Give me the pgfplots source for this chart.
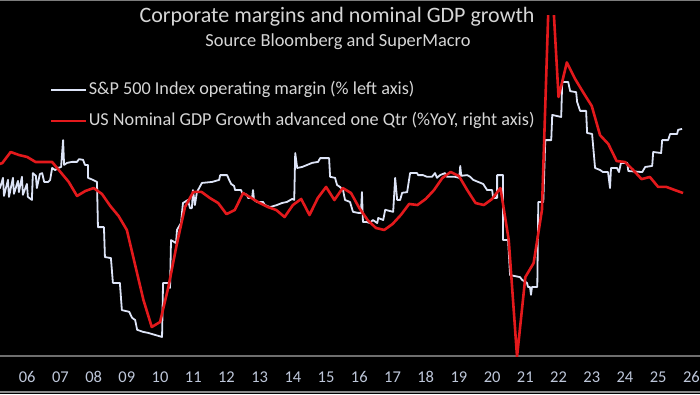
\documentclass[border=0pt]{standalone}
\usepackage{fontspec}
\setmainfont{Carlito}
\usepackage{pgfplots}
\usepackage{pgfplotstable}
\pgfplotsset{compat=1.18}
\definecolor{wline}{HTML}{DDE4F7}
\definecolor{rline}{HTML}{E3191C}
\definecolor{ticktxt}{HTML}{BEC7DA}
\definecolor{titletxt}{HTML}{D6D6D6}
\definecolor{axgray}{HTML}{6E6E6E}

\pgfplotstableread{
t v
2005.10 10.30
2005.18 10.34
2005.27 10.64
2005.30 10.11
2005.42 10.58
2005.45 10.08
2005.57 10.64
2005.60 10.17
2005.72 10.55
2005.75 10.22
2005.84 10.67
2005.87 10.14
2005.99 10.46
2006.02 10.08
2006.14 9.99
2006.17 10.78
2006.26 10.70
2006.29 10.34
2006.38 10.75
2006.45 10.78
2006.51 10.52
2006.63 10.52
2006.69 10.58
2006.75 10.93
2006.84 10.87
2006.93 10.93
2007.02 10.96
2007.08 11.75
2007.11 11.02
2007.20 11.08
2007.35 11.11
2007.50 11.11
2007.56 11.19
2007.68 11.17
2007.74 11.02
2007.83 11.02
2007.83 10.64
2007.98 10.58
2008.10 10.52
2008.13 9.19
2008.31 9.19
2008.34 8.31
2008.52 8.28
2008.58 7.55
2008.79 7.55
2008.85 6.75
2009.07 6.70
2009.16 6.52
2009.25 6.46
2009.31 6.17
2009.49 6.11
2009.64 6.08
2009.85 6.02
2010.06 5.96
2010.09 7.55
2010.27 7.55
2010.30 7.40
2010.33 8.81
2010.48 8.72
2010.51 9.11
2010.63 9.31
2010.69 9.90
2010.84 9.99
2010.90 9.75
2010.96 9.75
2010.99 10.28
2011.05 9.84
2011.11 10.22
2011.26 10.49
2011.57 10.52
2011.78 10.58
2011.81 10.72
2012.02 10.72
2012.08 10.58
2012.14 10.46
2012.23 10.40
2012.26 10.28
2012.44 10.28
2012.47 10.20
2012.62 10.14
2012.65 10.05
2012.77 10.05
2012.80 10.28
2012.83 9.99
2012.92 9.93
2013.10 9.93
2013.16 9.84
2013.31 9.78
2013.52 9.84
2013.67 9.90
2013.82 9.93
2013.98 10.02
2014.04 9.99
2014.07 11.37
2014.13 10.93
2014.28 10.96
2014.43 11.02
2014.58 11.08
2014.76 11.11
2014.82 11.22
2015.09 11.22
2015.12 10.67
2015.27 10.64
2015.33 10.43
2015.42 10.37
2015.51 10.28
2015.57 9.99
2015.72 9.93
2015.81 9.64
2015.96 9.61
2016.05 9.61
2016.08 10.22
2016.11 9.34
2016.23 9.34
2016.32 9.31
2016.41 9.40
2016.54 9.31
2016.57 9.46
2016.72 9.40
2016.78 9.70
2017.02 9.64
2017.08 10.64
2017.14 9.99
2017.23 9.99
2017.29 10.20
2017.44 10.22
2017.53 10.78
2017.74 10.78
2017.77 10.72
2017.92 10.72
2018.04 10.67
2018.19 10.67
2018.28 10.78
2018.34 10.64
2018.43 10.72
2018.58 10.78
2018.64 10.67
2018.88 10.67
2019.01 10.64
2019.04 10.99
2019.07 10.70
2019.25 10.72
2019.34 10.67
2019.43 10.58
2019.58 10.52
2019.73 10.46
2019.85 10.28
2020.00 10.28
2020.03 10.05
2020.15 10.05
2020.15 10.72
2020.33 10.72
2020.33 8.81
2020.48 8.81
2020.54 7.78
2020.84 7.72
2020.90 7.64
2021.05 7.55
2021.08 7.43
2021.14 7.43
2021.17 7.20
2021.20 7.43
2021.36 7.43
2021.39 9.93
2021.54 9.93
2021.60 11.75
2021.78 11.75
2021.81 12.49
2022.08 12.43
2022.11 13.46
2022.29 13.46
2022.35 13.19
2022.53 13.16
2022.56 12.87
2022.65 12.61
2022.83 12.61
2022.86 11.96
2023.01 11.93
2023.10 10.93
2023.25 10.87
2023.34 10.81
2023.49 10.81
2023.55 10.34
2023.58 10.93
2023.76 10.93
2023.82 10.81
2023.88 11.08
2024.07 11.08
2024.10 10.84
2024.52 10.81
2024.61 10.96
2024.82 10.99
2024.85 11.40
2025.09 11.37
2025.12 11.75
2025.30 11.75
2025.36 11.93
2025.57 11.93
2025.60 12.05
2025.72 12.08
}\margin

\pgfplotstableread{
t v
2005.00 6.20
2005.25 6.40
2005.50 7.22
2005.75 7.00
2006.00 6.85
2006.25 6.48
2006.50 6.48
2006.75 6.48
2007.00 5.74
2007.25 5.00
2007.50 3.96
2007.75 4.33
2008.00 4.55
2008.25 4.11
2008.50 3.22
2008.75 2.48
2009.00 1.44
2009.25 -1.16
2009.50 -3.75
2009.75 -5.75
2010.00 -5.38
2010.25 -2.79
2010.50 0.33
2010.75 3.14
2011.00 4.26
2011.25 4.26
2011.50 3.81
2011.75 3.44
2012.00 2.62
2012.25 2.92
2012.50 4.18
2012.75 3.81
2013.00 3.44
2013.25 3.14
2013.50 2.92
2013.75 2.40
2014.00 3.29
2014.25 3.74
2014.50 2.55
2014.75 3.81
2015.00 4.63
2015.25 3.66
2015.50 4.55
2015.75 4.18
2016.00 3.07
2016.25 2.18
2016.50 1.59
2016.75 1.44
2017.00 1.88
2017.25 2.55
2017.50 3.37
2017.75 3.29
2018.00 3.74
2018.25 4.40
2018.50 5.29
2018.75 5.74
2019.00 5.44
2019.25 4.40
2019.50 3.44
2019.75 3.29
2020.00 3.74
2020.25 4.55
2020.50 0.70
2020.75 -7.95
2021.00 -2.05
2021.25 -1.01
2021.50 2.92
2021.75 22.20
2022.00 11.30
2022.25 13.86
2022.50 12.63
2022.75 11.61
2023.00 10.63
2023.25 8.47
2023.50 7.81
2023.75 6.55
2024.00 6.48
2024.25 5.88
2024.50 5.21
2024.75 5.37
2025.00 4.63
2025.25 4.63
2025.50 4.40
2025.75 4.18
}\gdp

\begin{document}
\begin{tikzpicture}[x=1pt,y=1pt]
\useasboundingbox (0,0) rectangle (700,394);
\fill[black] (0,0) rectangle (700,394);
\clip (0,0) rectangle (700,394);
\draw[axgray!90, line width=2pt] (0,393.5) -- (700,393.5);
\draw[axgray!80, line width=1.2pt] (0,2) -- (700,2);

\begin{axis}[
  at={(0pt,38pt)}, anchor=south west,
  scale only axis, width=700pt, height=340pt,
  xmin=2005.18, xmax=2026.26, ymin=5.4, ymax=15.4,
  axis x line=bottom, axis y line=none,
  x axis line style={-, draw=axgray, line width=1.4pt},
  xtick={2005,2006,...,2026},
  xticklabels={05,06,07,08,09,10,11,12,13,14,15,16,17,18,19,20,21,22,23,24,25,26},
  major tick length=0pt,
  x tick label style={anchor=center, yshift=-21pt, text=ticktxt, font=\fontsize{16.5}{18}\selectfont},
  legend cell align=left,
  legend style={at={(axis description cs:0.0714,0.7365)}, anchor=west,
    draw=none, fill=none, inner sep=0pt, outer sep=0pt,
    font=\fontsize{18.2}{20}\selectfont, text=titletxt,
    row sep=15pt, column sep=1pt,
    nodes={inner sep=0pt, text height=12pt, text depth=4pt}},
  legend image code/.code={\draw[#1, line width=2.8pt] (0pt,0pt) -- (35pt,0pt);},
]
\addplot[wline, line width=1.8pt, line join=round] table[x=t, y=v] {\margin};
\addlegendentry{S\&P 500 Index operating margin (\% left axis)}
\addlegendimage{rline}
\addlegendentry{US Nominal GDP Growth advanced one Qtr (\%YoY, right axis)}
\end{axis}

\begin{axis}[
  at={(0pt,38pt)}, anchor=south west,
  scale only axis, width=700pt, height=340pt,
  xmin=2005.18, xmax=2026.26, ymin=-7.9, ymax=17.3,
  hide axis,
]
\addplot[rline, line width=2.6pt, line join=round] table[x=t, y=v] {\gdp};
\end{axis}

\node[text=titletxt, font=\fontsize{22}{24}\selectfont] at (337,377) {Corporate margins and nominal GDP growth};
\node[text=titletxt, font=\fontsize{18.4}{20}\selectfont] at (338,352) {Source Bloomberg and SuperMacro};
\end{tikzpicture}
\end{document}
